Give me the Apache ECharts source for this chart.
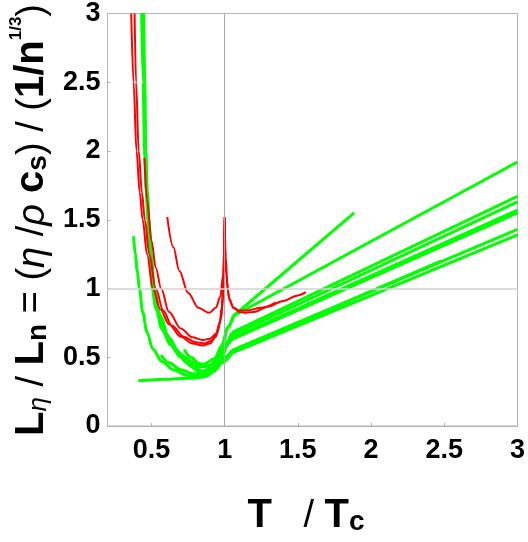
<!DOCTYPE html>
<html><head><meta charset="utf-8">
<script src="https://cdn.jsdelivr.net/npm/echarts@6/dist/echarts.min.js"></script>
<style>html,body{margin:0;padding:0;background:#fff}#c{width:528px;height:542px}</style>
</head><body><div id="c"></div><script>
// ---- tick labels ----
const xTicks = [0.5, 1, 1.5, 2, 2.5, 3];
const yTicks = [0, 0.5, 1, 1.5, 2, 2.5, 3];
// ---- reference lines ----
const refX = 1;
const refY = 1;
// ---- where green curves turn into straight high-T branches ----
const kinkT = 1.05;
// ---- green curves [T/Tc, L] ----
const greenA = [[0.437,3.0],[0.447,2.5],[0.456,2.0],[0.468,1.7],[0.478,1.5],[0.493,1.25],[0.508,1.0],[0.535,0.85],[0.58,0.7],[0.64,0.59],[0.71,0.51],[0.79,0.46],[0.86,0.45],[0.93,0.49],[0.98,0.58],[1.02,0.71],[1.06,0.8],[3.0,1.92]];
const greenB = [[0.444,3.0],[0.452,2.5],[0.459,2.0],[0.471,1.7],[0.481,1.5],[0.497,1.25],[0.513,1.0],[0.545,0.83],[0.6,0.67],[0.67,0.55],[0.75,0.47],[0.83,0.43],[0.9,0.44],[0.95,0.5],[0.99,0.6],[1.02,0.72],[1.06,0.8],[1.884,1.55]];
const greenC = [[0.378,1.38],[0.39,1.25],[0.403,1.13],[0.418,1.0],[0.44,0.83],[0.47,0.68],[0.51,0.56],[0.57,0.47],[0.65,0.41],[0.74,0.37],[0.82,0.36],[0.89,0.38],[0.95,0.43],[1.0,0.5],[1.05,0.55],[3.0,1.43]];
const greenD = [[0.41,0.33],[0.5,0.335],[0.6,0.34],[0.7,0.345],[0.8,0.35],[0.87,0.36],[0.93,0.4],[0.98,0.46],[1.05,0.53],[3.0,1.39]];
const greenE = [[0.566,0.516],[0.62,0.46],[0.7,0.41],[0.78,0.38],[0.85,0.38],[0.92,0.41],[0.97,0.46],[1.0,0.5],[1.05,0.54],[2.48,1.2]];
const greenF = [[0.724,0.557],[0.77,0.5],[0.83,0.45],[0.88,0.43],[0.94,0.46],[0.98,0.52],[1.0,0.58],[1.05,0.63],[3.0,1.55]];
const greenH = [[0.434,3.0],[0.444,2.5],[0.453,2.0],[0.465,1.7],[0.475,1.5],[0.49,1.25],[0.505,1.0],[0.53,0.86],[0.57,0.71],[0.63,0.59],[0.7,0.5],[0.78,0.43],[0.85,0.4],[0.91,0.42],[0.96,0.5],[1.0,0.6],[1.05,0.68],[3.0,1.67]];
const greenI = [[0.44,3.0],[0.449,2.5],[0.457,2.0],[0.469,1.7],[0.479,1.5],[0.495,1.25],[0.51,1.0],[0.54,0.84],[0.59,0.68],[0.66,0.56],[0.74,0.46],[0.82,0.4],[0.88,0.39],[0.94,0.42],[0.98,0.5],[1.01,0.6],[1.05,0.66],[3.0,1.63]];
const greenJ = [[0.447,3.0],[0.454,2.5],[0.46,2.0],[0.472,1.7],[0.483,1.5],[0.5,1.25],[0.518,1.0],[0.56,0.8],[0.62,0.64],[0.69,0.53],[0.77,0.44],[0.84,0.39],[0.9,0.38],[0.95,0.42],[0.99,0.52],[1.02,0.6],[1.05,0.64],[3.0,1.57]];
// ---- red curves [T/Tc, L] ----
const red1 = [[0.362,3.0],[0.378,2.5],[0.398,2.0],[0.42,1.7],[0.44,1.5],[0.47,1.25],[0.51,1.0],[0.56,0.85],[0.62,0.74],[0.7,0.65],[0.78,0.6],[0.85,0.585],[0.9,0.6],[0.94,0.65],[0.965,0.74],[0.98,0.86],[0.991,1.08],[1.0,1.52]];
const red2 = [[0.385,3.0],[0.395,2.5],[0.413,2.0],[0.435,1.7],[0.455,1.5],[0.485,1.25],[0.53,1.0],[0.58,0.84],[0.64,0.73],[0.72,0.65],[0.8,0.61],[0.86,0.6],[0.91,0.62],[0.95,0.68],[0.975,0.78],[0.99,0.95],[1.0,1.45]];
const red3 = [[0.452,1.95],[0.47,1.65],[0.5,1.35],[0.53,1.15],[0.566,1.0],[0.62,0.83],[0.7,0.71],[0.78,0.645],[0.85,0.625],[0.9,0.635],[0.94,0.67],[0.97,0.76],[0.99,0.92],[1.0,1.3]];
const red4 = [[0.608,1.52],[0.65,1.3],[0.69,1.13],[0.75,0.97],[0.82,0.86],[0.894,0.823],[0.94,0.86],[0.97,0.94],[0.99,1.1],[1.0,1.5]];
const red5 = [[1.0,1.52],[1.008,1.22],[1.02,1.0],[1.035,0.91],[1.06,0.86],[1.1,0.83],[1.143,0.823],[1.2,0.83],[1.3,0.87],[1.4,0.91],[1.5,0.95],[1.555,0.973]];
const red6 = [[1.0,1.4],[1.01,1.1],[1.03,0.93],[1.06,0.86],[1.1,0.84],[1.15,0.84],[1.25,0.86],[1.35,0.9]];

const greens = [greenD, greenC, greenE, greenF, greenJ, greenI, greenH, greenB, greenA];
const reds = [red1, red2, red3, red4, red5, red6];

const FONT = "'Liberation Sans', Arial, sans-serif";
const GRAY = '#b4b4b4';

const series = [];
series.push({
  type: 'line', data: [], silent: true, z: 1,
  markLine: {
    silent: true, symbol: 'none', label: {show: false}, animation: false,
    data: [
      {xAxis: refX, lineStyle: {color: '#a8a8a8', width: 1, type: 'solid'}},
      {yAxis: refY, lineStyle: {color: '#d2d2d2', width: 1.6, type: 'solid'}}
    ]
  }
});
greens.forEach(d => {
  // low-T part (curved) up to the kink, high-T part (straight) from the kink on
  const k = d.findIndex(p => p[0] >= kinkT);
  const low = d.slice(0, k + 1);
  const high = d.slice(k);
  series.push({
    type: 'line', data: low, showSymbol: false, smooth: 0.35, smoothMonotone: 'x',
    lineStyle: {color: '#00ff00', width: 3}, z: 3, silent: true
  });
  series.push({
    type: 'line', data: high, showSymbol: false, smooth: false,
    lineStyle: {color: '#00ff00', width: 3}, z: 3, silent: true
  });
});
reds.forEach(d => series.push({
  type: 'line', data: d, showSymbol: false, smooth: 0.35, smoothMonotone: 'x',
  lineStyle: {color: '#ff0000', width: 2}, z: 4, silent: true
}));

const chart = echarts.init(document.getElementById('c'), null, {renderer: 'canvas'});
chart.setOption({
  animation: false,
  backgroundColor: '#fff',
  grid: {left: 107.5, right: 7, top: 13, bottom: 116, show: true, borderColor: GRAY, borderWidth: 1},
  xAxis: {
    type: 'value', min: 0.2, max: 3,
    axisLine: {show: true, onZero: false, lineStyle: {color: GRAY}},
    axisTick: {show: true, inside: true, length: 3, customValues: xTicks, lineStyle: {color: GRAY}},
    axisLabel: {customValues: xTicks, fontFamily: FONT, fontSize: 27, fontWeight: 'bold', color: '#000', margin: 11},
    splitLine: {show: false}
  },
  yAxis: {
    type: 'value', min: 0, max: 3, interval: 0.5,
    axisLine: {show: true, onZero: false, lineStyle: {color: GRAY}},
    axisTick: {show: true, inside: true, length: 3, customValues: yTicks, lineStyle: {color: GRAY}},
    axisLabel: {customValues: yTicks, fontFamily: FONT, fontSize: 27, fontWeight: 'bold', color: '#000', margin: 7},
    splitLine: {show: false}
  },
  graphic: [
    {
      type: 'text', x: 30, y: 220, rotation: Math.PI / 2, silent: true,
      style: {
        text: '{b|L}{si|η}{r| / }{b|L}{sb|n}{r| = (}{i|η}{r| /}{i|ρ}{b| c}{sb|s}{r|) / (}{b|1/n}{sup|1/3}{r|)}',
        align: 'center', verticalAlign: 'middle',
        rich: {
          b: {fontFamily: FONT, fontSize: 40, fontWeight: 'bold', fill: '#000', lineHeight: 44, verticalAlign: 'bottom'},
          r: {fontFamily: FONT, fontSize: 38, fill: '#000', lineHeight: 44, verticalAlign: 'bottom'},
          i: {fontFamily: FONT, fontSize: 38, fontStyle: 'italic', fill: '#000', lineHeight: 44, verticalAlign: 'bottom'},
          si: {fontFamily: FONT, fontSize: 26, fontStyle: 'italic', fill: '#000', lineHeight: 28, verticalAlign: 'bottom'},
          sb: {fontFamily: FONT, fontSize: 28, fontWeight: 'bold', fill: '#000', lineHeight: 28, verticalAlign: 'bottom'},
          sup: {fontFamily: FONT, fontSize: 17, fontWeight: 'bold', fill: '#000', lineHeight: 8, verticalAlign: 'top'}
        }
      }
    },
    {
      type: 'text', x: 306, y: 514, silent: true,
      style: {
        text: '{b|T}{r|   / }{b|T}{sb|c}',
        align: 'center', verticalAlign: 'middle',
        rich: {
          b: {fontFamily: FONT, fontSize: 40, fontWeight: 'bold', fill: '#000', lineHeight: 44, verticalAlign: 'bottom'},
          r: {fontFamily: FONT, fontSize: 38, fill: '#000', lineHeight: 44, verticalAlign: 'bottom'},
          sb: {fontFamily: FONT, fontSize: 28, fontWeight: 'bold', fill: '#000', lineHeight: 11, verticalAlign: 'bottom'}
        }
      }
    }
  ],
  series: series
});
</script></body></html>
